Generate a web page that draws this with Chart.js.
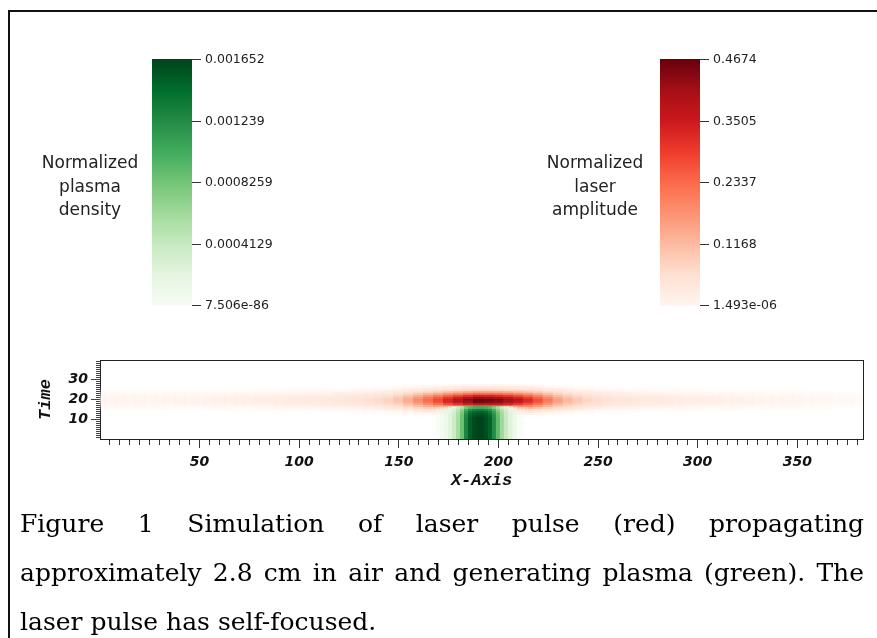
<!DOCTYPE html>
<html><head><meta charset="utf-8">
<script src="https://cdn.jsdelivr.net/npm/chart.js@4/dist/chart.umd.min.js"></script>
<style>
html,body{margin:0;padding:0;background:#fff;}
#page{position:relative;width:877px;height:638px;overflow:hidden;background:#fff;}
#frame{position:absolute;left:8px;top:10px;width:900px;height:700px;border-left:2px solid #111;border-top:2px solid #111;}
#heat{position:absolute;left:0;top:0;}
.cbar{position:absolute;width:40px;height:247px;top:59px;}
.tick{position:absolute;height:1px;width:9px;background:#333;}
.tlab{position:absolute;font:12.5px 'DejaVu Sans';color:#222;line-height:14px;white-space:nowrap;}
.ctitle{position:absolute;width:170px;text-align:center;font:17px 'DejaVu Sans';color:#222;line-height:23.5px;}
.cap{position:absolute;left:20px;width:844px;font:25px 'DejaVu Serif';color:#000;line-height:25px;}
.just{text-align:justify;text-align-last:justify;}
</style></head>
<body><div id="page">
<div id="frame"></div>
<canvas id="heat" width="877" height="638"></canvas>
</div>
<script>
// ---------- data ----------
const xMajorTicks = [50, 100, 150, 200, 250, 300, 350];
const yMajorTicks = [10, 20, 30];

// laser amplitude (fraction of max 0.4674) along X, sampled every 5 units from 0 to 380
const laserColumns = [0,5,10,15,20,25,30,35,40,45,50,55,60,65,70,75,80,85,90,95,100,105,110,115,120,125,130,135,140,145,150,155,160,165,170,175,180,185,190,195,200,205,210,215,220,225,230,235,240,245,250,255,260,265,270,275,280,285,290,295,300,305,310,315,320,325,330,335,340,345,350,355,360,365,370,375,380];
const laserProfileX = [0.03,0.03,0.03,0.03,0.03,0.03,0.03,0.032,0.035,0.035,
  0.035,0.04,0.04,0.04,0.045,0.045,0.05,0.05,0.055,0.06,
  0.06,0.065,0.07,0.075,0.08,0.09,0.1,0.12,0.14,0.17,
  0.22,0.3,0.4,0.5,0.6,0.72,0.82,0.92,1.0,0.98,
  0.95,0.88,0.8,0.7,0.58,0.45,0.34,0.26,0.2,0.16,
  0.13,0.11,0.095,0.085,0.075,0.07,0.065,0.06,0.055,0.05,
  0.05,0.045,0.045,0.04,0.04,0.035,0.035,0.03,0.03,0.03,
  0.03,0.025,0.025,0.025,0.02,0.02,0.02];
// laser amplitude profile across Time
const laserRows = [12,13,14,15,16,17,18,19,20,21,22,23,24,25,26,27];
const laserProfileT = [0.02,0.05,0.1,0.2,0.38,0.6,0.82,0.97,1.0,0.9,0.72,0.5,0.3,0.15,0.07,0.03];

// plasma density (fraction of max 0.001652) along X, every 2 units
const plasmaColumns = [168,170,172,174,176,178,180,182,184,186,188,190,192,194,196,198,200,202,204,206,208,210,212,214];
const plasmaProfileX = [0.02,0.04,0.06,0.09,0.14,0.22,0.35,0.52,0.78,0.92,0.98,1.0,1.0,0.97,0.9,0.75,0.55,0.38,0.25,0.15,0.09,0.05,0.03,0.01];
const plasmaRows = [1,2,3,4,5,6,7,8,9,10,11,12,13,14,15,16];
const plasmaProfileT = [1,1,1,1,1,1,1,1,1,1,1,0.98,0.95,0.9,0.8,0.62];

// colour bar tick labels
const densityTicks = ['0.001652','0.001239','0.0008259','0.0004129','7.506e-86'];
const amplitudeTicks = ['0.4674','0.3505','0.2337','0.1168','1.493e-06'];
const densityTitle = ['Normalized','plasma','density'];
const amplitudeTitle = ['Normalized','laser','amplitude'];
const captionLines = [
  'Figure 1 Simulation of laser pulse (red) propagating',
  'approximately 2.8 cm in air and generating plasma (green). The',
  'laser pulse has self-focused.'
];

// ---------- colour maps ----------
const GREENS = ['#f7fcf5','#e5f5e0','#c7e9c0','#a1d99b','#74c476','#41ab5d','#238b45','#006d2c','#00441b'];
const REDS = ['#fff5f0','#fee0d2','#fcbba1','#fc9272','#fb6a4a','#ef3b2c','#cb181d','#a50f15','#67000d'];
function hex(h){return [parseInt(h.substr(1,2),16),parseInt(h.substr(3,2),16),parseInt(h.substr(5,2),16)];}
function cmap(stops,f,ramp){
  f=Math.max(0,Math.min(1,f));
  const p=f*(stops.length-1); const i=Math.min(stops.length-2,Math.floor(p)); const t=p-i;
  const a=hex(stops[i]), b=hex(stops[i+1]);
  const c=a.map((v,k)=>Math.round(v+(b[k]-v)*t));
  const al=Math.min(1,f/ramp);
  return 'rgba('+c[0]+','+c[1]+','+c[2]+','+al.toFixed(3)+')';
}

// ---------- colour bars (legend) ----------
const page=document.getElementById('page');
function colorbar(left, stops, ticks, titleLines, titleCenter){
  const bar=document.createElement('div'); bar.className='cbar'; bar.style.left=left+'px';
  bar.style.background='linear-gradient(to top,'+stops.map((s,i)=>s+' '+(i*100/(stops.length-1))+'%').join(',')+')';
  page.appendChild(bar);
  const top=59, h=246;
  ticks.forEach((lab,i)=>{
    const y=top+h*i/(ticks.length-1);
    const tk=document.createElement('div'); tk.className='tick'; tk.style.left=(left+40)+'px'; tk.style.top=(Math.round(y)-0.5)+'px'; page.appendChild(tk);
    const tl=document.createElement('div'); tl.className='tlab'; tl.textContent=lab; tl.style.left=(left+53)+'px'; tl.style.top=(y-7)+'px'; page.appendChild(tl);
  });
  const t=document.createElement('div'); t.className='ctitle'; t.style.left=(titleCenter-85)+'px'; t.style.top='151px';
  t.innerHTML=titleLines.join('<br>'); page.appendChild(t);
}
colorbar(152, GREENS, densityTicks, densityTitle, 90);
colorbar(660, REDS, amplitudeTicks, amplitudeTitle, 595);

// caption
const capTops=[511,560,609];
captionLines.forEach((s,i)=>{
  const d=document.createElement('div'); d.className='cap'+(i<2?' just':''); d.textContent=s; d.style.top=capTops[i]+'px'; page.appendChild(d);
});

// ---------- heat map cells ----------
const laserCells=[];
laserColumns.forEach((x,i)=>laserRows.forEach((t,j)=>{
  const v=laserProfileX[i]*laserProfileT[j];
  if(v>0.004) laserCells.push({x:x,y:[t-0.5,t+0.5],v:v});
}));
const plasmaCells=[];
plasmaColumns.forEach((x,i)=>plasmaRows.forEach((t,j)=>{
  const v=plasmaProfileX[i]*plasmaProfileT[j];
  if(v>0.004) plasmaCells.push({x:x,y:[t-0.5,t+0.5],v:v});
}));

const xTickValues=[]; for(let v=5; v<=380; v+=5) xTickValues.push(v);
const yTickValues=[]; for(let v=1; v<=39; v++) yTickValues.push(v);
const tickFont={family:'DejaVu Sans',size:14,weight:'bold',style:'italic'};
const titleFont={family:'Liberation Mono',size:17,weight:'bold',style:'italic'};

new Chart(document.getElementById('heat'),{
  type:'bar',
  data:{datasets:[
    {label:'plasma density',data:plasmaCells,order:0,barThickness:4.4,borderWidth:0,
      backgroundColor:c=>c.raw?cmap(GREENS,c.raw.v,0.12):'rgba(0,0,0,0)'},
    {label:'laser amplitude',data:laserCells,order:1,barThickness:10.4,borderWidth:0,
      backgroundColor:c=>c.raw?cmap(REDS,c.raw.v,0.05):'rgba(0,0,0,0)'}
  ]},
  options:{
    responsive:false,animation:false,events:[],
    layout:{padding:{left:36,top:360,right:14,bottom:147}},
    plugins:{legend:{display:false},tooltip:{enabled:false}},
    scales:{
      x:{type:'linear',position:'bottom',stacked:true,offset:false,min:0,max:383,
        afterBuildTicks:ax=>{ax.ticks=xTickValues.map(v=>({value:v}));},
        afterFit:s=>{s.height=52;},
        ticks:{autoSkip:false,maxRotation:0,minRotation:0,padding:6,color:'#111',font:tickFont,
          callback:v=>xMajorTicks.includes(v)?String(v):''},
        grid:{drawOnChartArea:false,offset:false,tickLength:9,tickWidth:1,tickColor:'#333',
          tickBorderDash:c=>(c.tick&&xMajorTicks.includes(c.tick.value))?[]:[5,50]},
        border:{display:true,color:'#222',width:1},
        title:{display:true,text:'X-Axis',color:'#111',font:titleFont,padding:{top:0,bottom:0}}
      },
      y:{type:'linear',position:'left',stacked:false,min:0.5,max:39.5,
        afterBuildTicks:ax=>{ax.ticks=yTickValues.map(v=>({value:v}));},
        afterFit:s=>{s.width=64;},
        ticks:{autoSkip:false,padding:3,color:'#111',font:tickFont,
          callback:v=>yMajorTicks.includes(v)?String(v):''},
        grid:{drawOnChartArea:false,tickLength:9,tickWidth:1,tickColor:'#444',
          tickBorderDash:c=>(c.tick&&yMajorTicks.includes(c.tick.value))?[]:[0,5,4,0]},
        border:{display:true,color:'#222',width:1},
        title:{display:true,text:'Time',color:'#111',font:titleFont,padding:{top:0,bottom:0}}
      },
      x2:{type:'linear',position:'top',min:0,max:383,
        afterFit:s=>{s.height=0;},
        ticks:{display:false},grid:{display:false,drawTicks:false},
        border:{display:true,color:'#222',width:1}},
      y2:{type:'linear',position:'right',min:0.5,max:39.5,
        afterFit:s=>{s.width=0;},
        ticks:{display:false},grid:{display:false,drawTicks:false},
        border:{display:true,color:'#222',width:1}}
    }
  }
});
</script>
</body></html>
